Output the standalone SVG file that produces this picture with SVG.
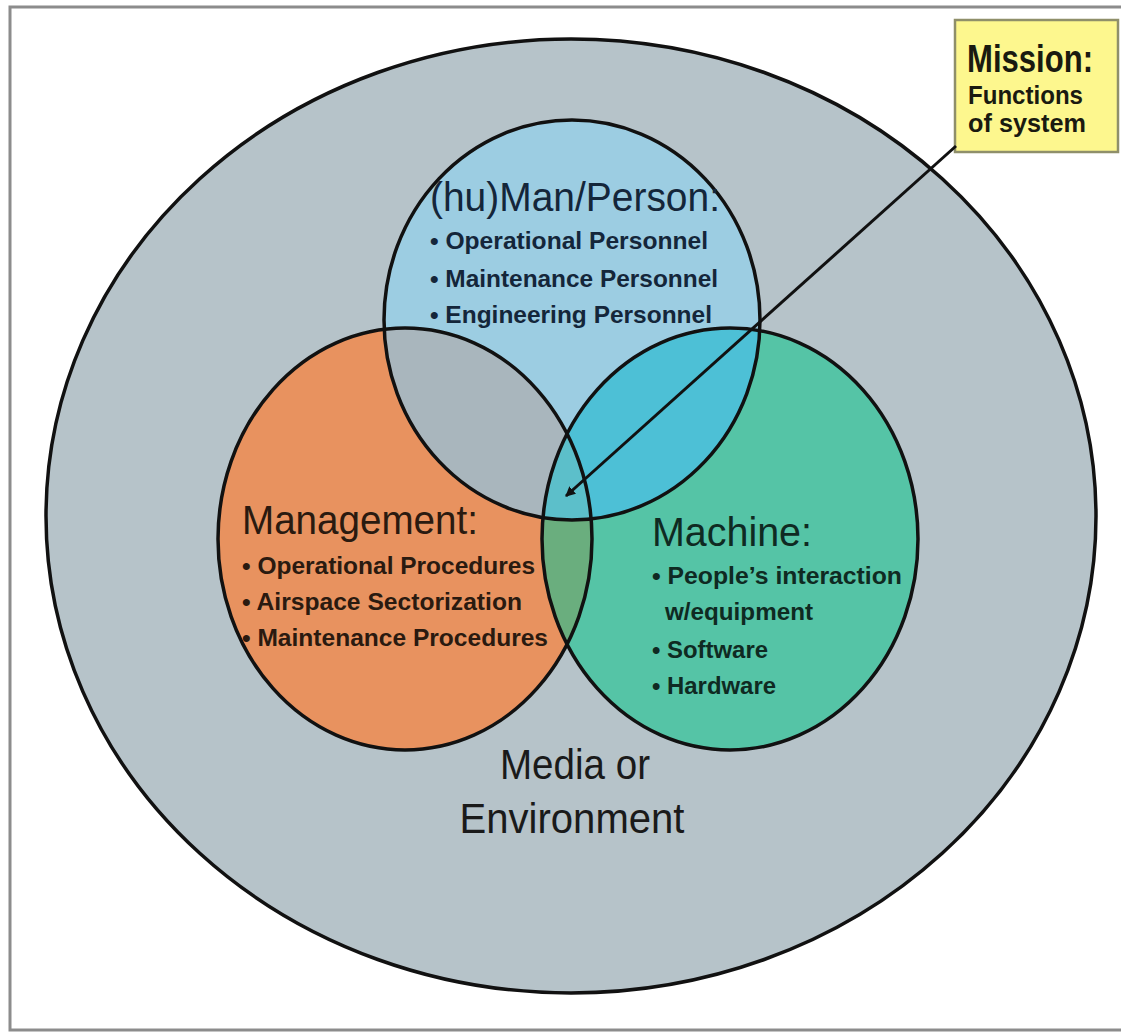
<svg xmlns="http://www.w3.org/2000/svg" width="1121" height="1033" viewBox="0 0 1121 1033">
<style>
.edge{fill:none;stroke:#111;stroke-width:3.5}
.title{font-family:"Liberation Sans",Arial,sans-serif;font-size:41px}
.item{font-family:"Liberation Sans",Arial,sans-serif;font-size:24px;font-weight:bold}
.env{font-family:"Liberation Sans",Arial,sans-serif;font-size:43px;fill:#1a1a1a}
</style>
<defs>
<clipPath id="cBlue"><ellipse cx="572" cy="320" rx="188" ry="200"/></clipPath>
<clipPath id="cOrange"><ellipse cx="405" cy="539" rx="187" ry="211"/></clipPath>
<clipPath id="cTeal"><ellipse cx="730" cy="539" rx="188" ry="211"/></clipPath>
<marker id="arr" viewBox="0 0 10 10" refX="9" refY="5" markerWidth="10" markerHeight="10" markerUnits="userSpaceOnUse" orient="auto">
<path d="M0,0 L10,5 L0,10 z" fill="#111"/>
</marker>
</defs>
<rect x="0" y="0" width="1121" height="1033" fill="#fff"/>
<rect x="10" y="7" width="1125" height="1023" fill="none" stroke="#8c8c8c" stroke-width="3"/>

<g id="environment">
<ellipse cx="571" cy="516" rx="525" ry="477" fill="#b6c3c9" stroke="#111" stroke-width="3.5"/>
<text class="env" x="575" y="779" text-anchor="middle" textLength="150" lengthAdjust="spacingAndGlyphs">Media or</text>
<text class="env" x="572" y="833" text-anchor="middle" textLength="225" lengthAdjust="spacingAndGlyphs">Environment</text>
</g>

<g id="fills">
<ellipse cx="405" cy="539" rx="187" ry="211" fill="#e8925f"/>
<ellipse cx="730" cy="539" rx="188" ry="211" fill="#55c4a6"/>
<ellipse cx="572" cy="320" rx="188" ry="200" fill="#9ccde2"/>
<g clip-path="url(#cBlue)"><ellipse cx="405" cy="539" rx="187" ry="211" fill="#a9b6bd"/></g>
<g clip-path="url(#cBlue)"><ellipse cx="730" cy="539" rx="188" ry="211" fill="#4dc0d6"/></g>
<g clip-path="url(#cOrange)"><ellipse cx="730" cy="539" rx="188" ry="211" fill="#6aae7e"/></g>
<g clip-path="url(#cOrange)"><g clip-path="url(#cTeal)"><ellipse cx="572" cy="320" rx="188" ry="200" fill="#5cbfca"/></g></g>
</g>

<g id="human">
<ellipse class="edge" cx="572" cy="320" rx="188" ry="200"/>
<text class="title" x="430" y="211" fill="#14263a" textLength="290" lengthAdjust="spacingAndGlyphs">(hu)Man/Person:</text>
<text class="item" x="430" y="249" fill="#14263a" textLength="278" lengthAdjust="spacingAndGlyphs">• Operational Personnel</text>
<text class="item" x="430" y="287" fill="#14263a" textLength="288" lengthAdjust="spacingAndGlyphs">• Maintenance Personnel</text>
<text class="item" x="430" y="323" fill="#14263a" textLength="282" lengthAdjust="spacingAndGlyphs">• Engineering Personnel</text>
</g>

<g id="management">
<ellipse class="edge" cx="405" cy="539" rx="187" ry="211"/>
<text class="title" x="242" y="534" fill="#2a1a10" textLength="236" lengthAdjust="spacingAndGlyphs">Management:</text>
<text class="item" x="242" y="574" fill="#2a1a10" textLength="293" lengthAdjust="spacingAndGlyphs">• Operational Procedures</text>
<text class="item" x="242" y="610" fill="#2a1a10" textLength="280" lengthAdjust="spacingAndGlyphs">• Airspace Sectorization</text>
<text class="item" x="242" y="646" fill="#2a1a10" textLength="306" lengthAdjust="spacingAndGlyphs">• Maintenance Procedures</text>
</g>

<g id="machine">
<ellipse class="edge" cx="730" cy="539" rx="188" ry="211"/>
<text class="title" x="652" y="546" fill="#0f2a22" textLength="160" lengthAdjust="spacingAndGlyphs">Machine:</text>
<text class="item" x="652" y="584" fill="#0f2a22" textLength="250" lengthAdjust="spacingAndGlyphs">• People’s interaction</text>
<text class="item" x="665" y="620" fill="#0f2a22" textLength="148" lengthAdjust="spacingAndGlyphs">w/equipment</text>
<text class="item" x="652" y="658" fill="#0f2a22" textLength="116" lengthAdjust="spacingAndGlyphs">• Software</text>
<text class="item" x="652" y="694" fill="#0f2a22" textLength="124" lengthAdjust="spacingAndGlyphs">• Hardware</text>
</g>

<g id="mission">
<rect x="955" y="20" width="163" height="132" fill="#fdf78e" stroke="#8f8f6a" stroke-width="2.5"/>
<text x="967" y="72" font-family="Liberation Sans,Arial,sans-serif" font-weight="bold" font-size="38" fill="#1a1a10" textLength="126" lengthAdjust="spacingAndGlyphs">Mission:</text>
<text x="968" y="104" font-family="Liberation Sans,Arial,sans-serif" font-weight="bold" font-size="26" fill="#1a1a10" textLength="115" lengthAdjust="spacingAndGlyphs">Functions</text>
<text x="968" y="132" font-family="Liberation Sans,Arial,sans-serif" font-weight="bold" font-size="26" fill="#1a1a10" textLength="118" lengthAdjust="spacingAndGlyphs">of system</text>
</g>

<g id="connectors">
<line x1="956" y1="146" x2="566" y2="496" stroke="#111" stroke-width="3" marker-end="url(#arr)"/>
</g>
</svg>
